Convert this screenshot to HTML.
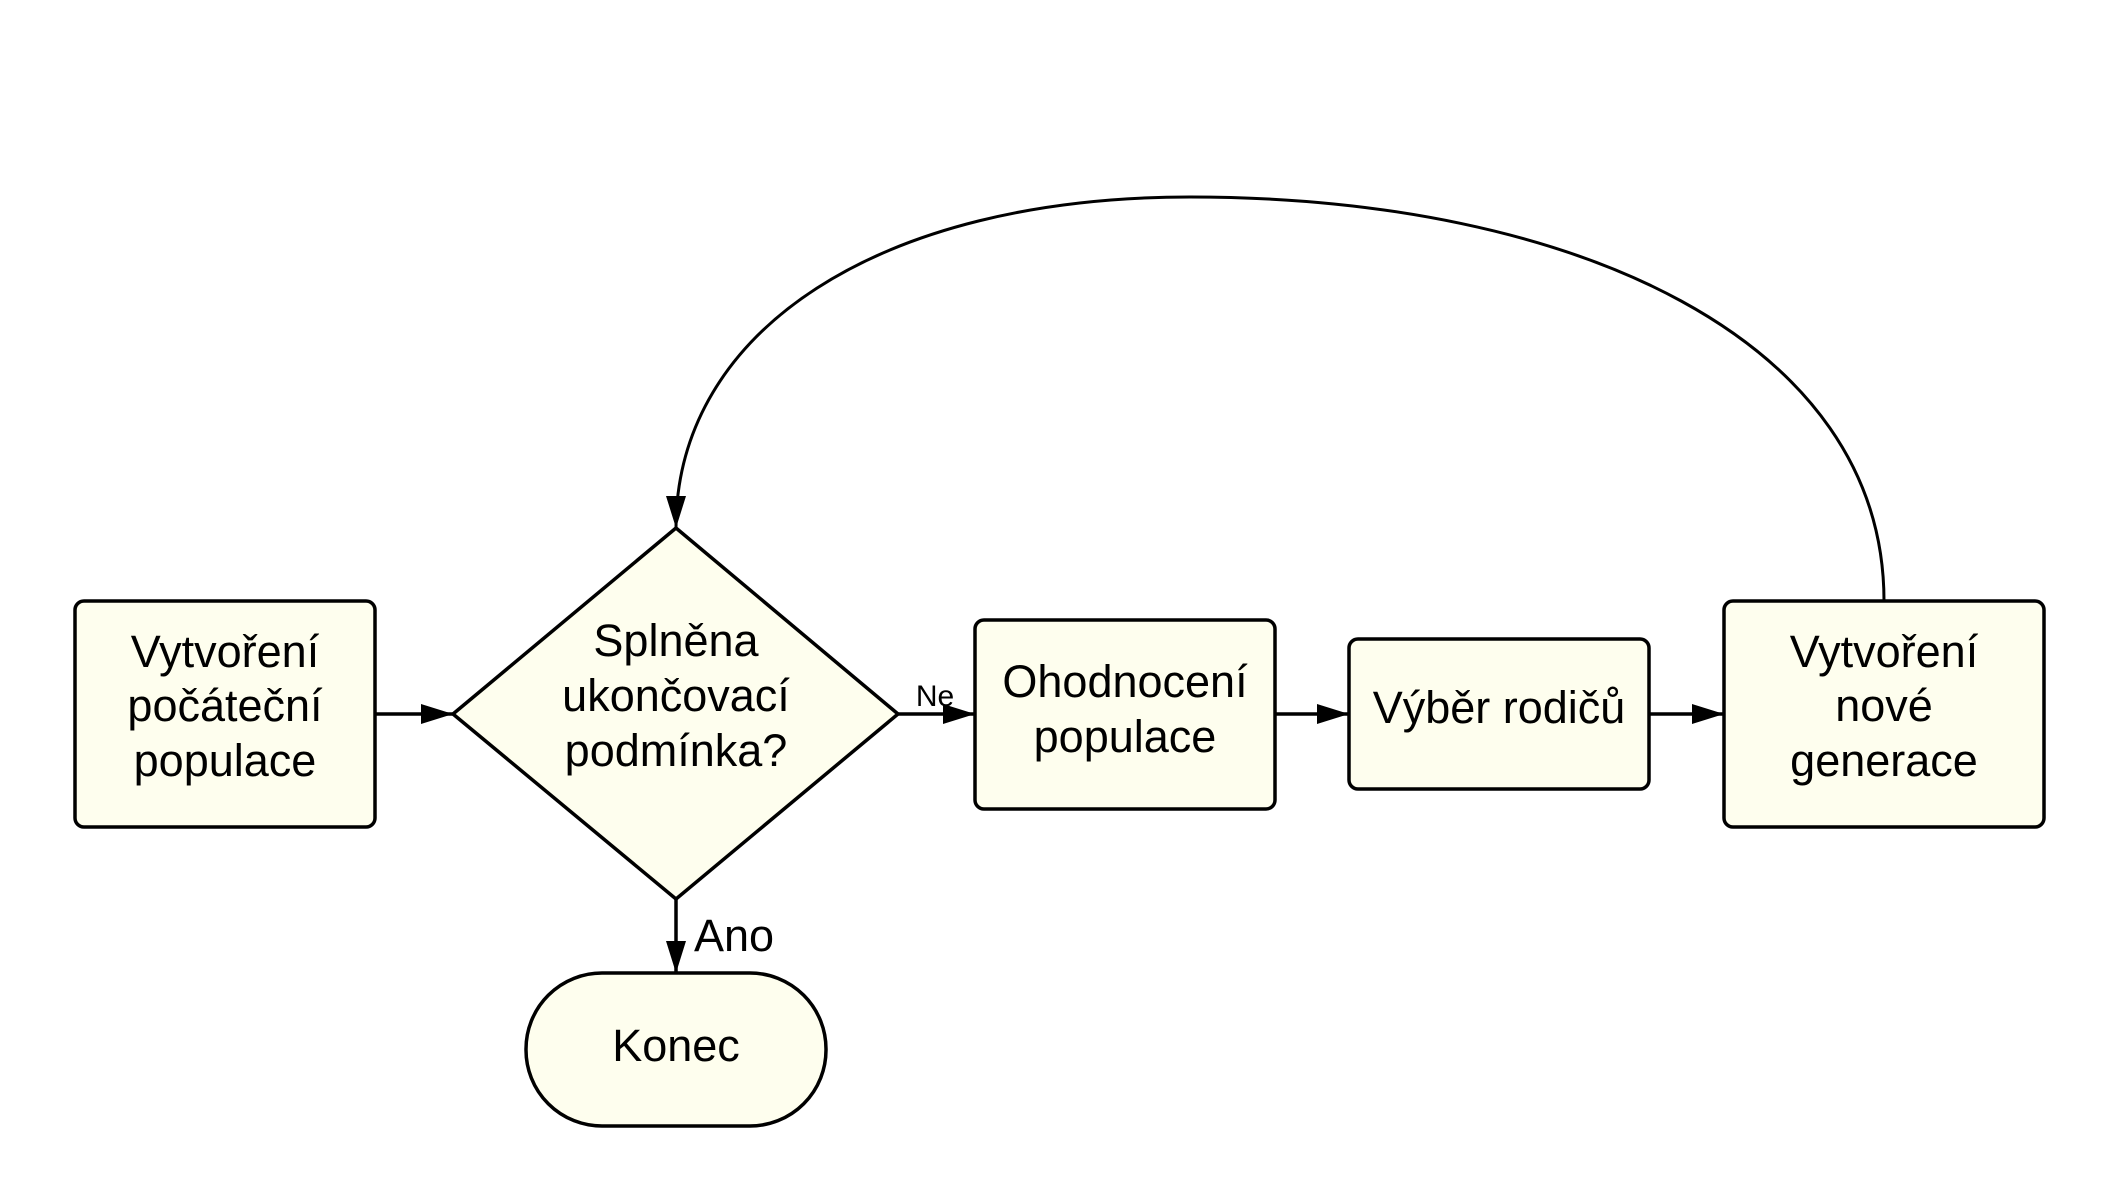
<!DOCTYPE html>
<html><head><meta charset="utf-8"><style>
html,body{margin:0;padding:0;background:#fff;}
svg{display:block;}
text{font-family:"Liberation Sans",sans-serif;fill:#000;}
</style></head><body>
<svg width="2119" height="1202" viewBox="0 0 2119 1202" xmlns="http://www.w3.org/2000/svg">
<g stroke="#000" stroke-width="3.5" fill="#fefeee">
<rect x="75" y="601" width="300" height="226" rx="9"/>
<path d="M676,528 L898,714 L676,899 L453,714 Z" stroke-linejoin="round"/>
<rect x="975" y="620" width="300" height="189" rx="9"/>
<rect x="1349" y="639" width="300" height="150" rx="9"/>
<rect x="1724" y="601" width="320" height="226" rx="9"/>
<rect x="526" y="973" width="300" height="153" rx="76"/>
</g>
<g stroke="#000" stroke-width="3.5" fill="none">
<line x1="375" y1="714" x2="453" y2="714"/>
<line x1="898" y1="714" x2="975" y2="714"/>
<line x1="1275" y1="714" x2="1349" y2="714"/>
<line x1="1649" y1="714" x2="1724" y2="714"/>
<line x1="676" y1="899" x2="676" y2="973"/>
<path d="M1884,601 C1884,340 1575,197 1190,197 C880,197 676,330 676,528" stroke-width="3"/>
</g>
<g fill="#000">
<path d="M453,714 L421,704 L421,724 Z"/>
<path d="M975,714 L943,704 L943,724 Z"/>
<path d="M1349,714 L1317,704 L1317,724 Z"/>
<path d="M1724,714 L1692,704 L1692,724 Z"/>
<path d="M676,973 L666,941 L686,941 Z"/>
<path d="M676,528 L666,496 L686,496 Z"/>
</g>
<g font-size="45" text-anchor="middle">
<text x="225" y="667">Vytvoření</text>
<text x="225" y="721">počáteční</text>
<text x="225" y="776">populace</text>
<text x="676" y="656">Splněna</text>
<text x="676" y="711">ukončovací</text>
<text x="676" y="766">podmínka?</text>
<text x="1125" y="697">Ohodnocení</text>
<text x="1125" y="752">populace</text>
<text x="1499" y="723">Výběr rodičů</text>
<text x="1884" y="667">Vytvoření</text>
<text x="1884" y="721">nové</text>
<text x="1884" y="776">generace</text>
<text x="676" y="1061">Konec</text>
<text x="734" y="951">Ano</text>
</g>
<text x="935" y="706" font-size="30" text-anchor="middle">Ne</text>
</svg>
</body></html>
